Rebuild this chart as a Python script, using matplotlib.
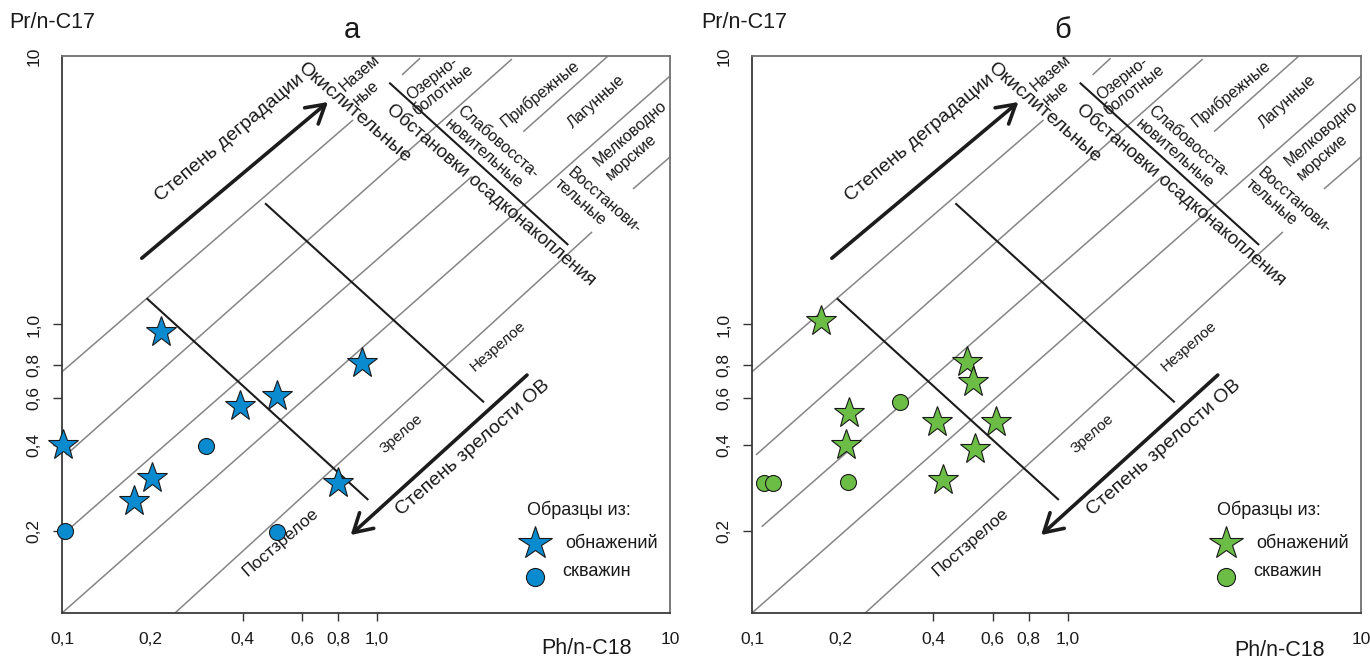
import matplotlib
matplotlib.use("Agg")
import numpy as np
import matplotlib.pyplot as plt

plt.rcParams['font.family'] = ['Liberation Sans', 'DejaVu Sans']

# ---------------- data ----------------
# panel a (blue)
outcrop_a_x = [0.217, 0.1005, 0.2025, 0.177, 0.392, 0.504, 0.919, 0.796]
outcrop_a_y = [0.961, 0.398, 0.305, 0.255, 0.562, 0.613, 0.808, 0.294]
well_a_x = [0.304, 0.1024, 0.506]
well_a_y = [0.396, 0.2005, 0.198]

# panel b (green)
outcrop_b_x = [0.1716, 0.505, 0.526, 0.2137, 0.2086, 0.412, 0.615, 0.532, 0.429]
outcrop_b_y = [1.033, 0.815, 0.693, 0.527, 0.398, 0.487, 0.487, 0.385, 0.301]
well_b_x = [0.1102, 0.1183, 0.2116, 0.3128]
well_b_y = [0.294, 0.294, 0.2955, 0.580]

# grey iso-lines of the diagram (x0, y0, x1, y1) in Ph/n-C18 , Pr/n-C17 units
grey_segments = [
    (0.1, 0.755, 0.871, 5.775),
    (1.217, 8.50, 1.402, 9.81),
    (0.1032, 0.368, 2.888, 9.745),
    (0.1079, 0.207, 2.104, 3.552),
    (3.157, 5.225, 6.143, 10.0),
    (0.1, 0.1, 10.0, 8.42),
    (0.2412, 0.1, 5.418, 2.211),
    (7.474, 3.196, 10.0, 4.206),
]
# black boundary lines
black_segments = [
    (0.1949, 1.252, 0.9511, 0.2565),
    (0.4657, 2.828, 2.318, 0.580),
    (1.101, 7.955, 4.496, 1.977),
]
# thick arrows (tail_x, tail_y, tip_x, tip_y)
arrows = [
    (0.1874, 1.765, 0.737, 6.74),
    (3.251, 0.734, 0.859, 0.1933),
]

x_ticks = [0.1, 0.2, 0.4, 0.6, 0.8, 1.0, 10]
x_tick_labels = ['0,1', '0,2', '0,4', '0,6', '0,8', '1,0', '10']
y_ticks = [0.2, 0.4, 0.6, 0.8, 1.0, 10]
y_tick_labels = ['0,2', '0,4', '0,6', '0,8', '1,0', '10']

# the hand-drawn log axes of the original: where each labelled value sits
scale_values = [0.1, 0.2, 0.4, 0.6, 0.8, 1.0, 10]
x_scale_pos = [0.0, 0.1447, 0.2972, 0.3952, 0.4544, 0.5181, 1.0]
y_scale_pos = [0.0, 0.1472, 0.3025, 0.3851, 0.4452, 0.5180, 1.0]

# annotations: text, x, y (axes fraction), rotation, fontsize
labels = [
    ('Степень деградации', 0.2763, 0.8528, 40, 14),
    ('Окислительные', 0.4803, 0.8977, -41, 14),
    ('Назем', 0.4901, 0.9689, 41, 11.5),
    ('ные', 0.4995, 0.9330, 41, 11.5),
    ('Озерно-', 0.6090, 0.9600, 38, 11.5),
    ('болотные', 0.6271, 0.9390, 38, 11.5),
    ('Прибрежные', 0.7862, 0.9330, 39, 11.5),
    ('Лагунные', 0.8794, 0.9180, 42, 11.5),
    ('Мелководно', 0.9342, 0.8612, 41, 11.5),
    ('морские', 0.9370, 0.8192, 41, 11.5),
    ('Слабовосста-', 0.7176, 0.8461, -41, 11.5),
    ('новительные', 0.6941, 0.8253, -41, 11.5),
    ('Восстанови-', 0.8914, 0.7402, -41, 11.5),
    ('тельные', 0.8531, 0.7373, -41, 11.5),
    ('Обстановки осадконакопления', 0.7053, 0.7519, -40.6, 13.5),
    ('Незрелое', 0.7176, 0.4781, 41, 11),
    ('Зрелое', 0.5587, 0.3214, 41, 11),
    ('Постзрелое', 0.3597, 0.1269, 41, 12.5),
    ('Степень зрелости ОВ', 0.6765, 0.2957, 41, 14),
]

LOGS = np.log10(scale_values)


def make_scale(pos):
    pos = np.asarray(pos, float)
    s_lo = (pos[1] - pos[0]) / (LOGS[1] - LOGS[0])
    s_hi = (pos[-1] - pos[-2]) / (LOGS[-1] - LOGS[-2])

    def fwd(v):
        v = np.asarray(v, float)
        lg = np.log10(np.maximum(v, 1e-300))
        out = np.interp(lg, LOGS, pos)
        out = np.where(lg < LOGS[0], pos[0] + (lg - LOGS[0]) * s_lo, out)
        out = np.where(lg > LOGS[-1], pos[-1] + (lg - LOGS[-1]) * s_hi, out)
        return out

    def inv(u):
        u = np.asarray(u, float)
        lg = np.interp(u, pos, LOGS)
        lg = np.where(u < pos[0], LOGS[0] + (u - pos[0]) / s_lo, lg)
        lg = np.where(u > pos[-1], LOGS[-1] + (u - pos[-1]) / s_hi, lg)
        return 10.0 ** lg

    return fwd, inv


W, H = 1370, 660
fig = plt.figure(figsize=(W / 100, H / 100), dpi=100)
ax_a = fig.add_axes([62 / W, 47 / H, 608 / W, 557 / H])
ax_b = fig.add_axes([752 / W, 47 / H, 609 / W, 557 / H])

INK = '#1a1a1a'


def draw_panel(ax, ox, oy, wx, wy, color):
    ax.set_xscale('function', functions=make_scale(x_scale_pos))
    ax.set_yscale('function', functions=make_scale(y_scale_pos))
    ax.set_xlim(0.1, 10)
    ax.set_ylim(0.1, 10)

    for (x0, y0, x1, y1) in grey_segments:
        ax.plot([x0, x1], [y0, y1], color='#858585', lw=1.1,
                solid_capstyle='butt', zorder=1)
    for (x0, y0, x1, y1) in black_segments:
        ax.plot([x0, x1], [y0, y1], color='#1c1c1c', lw=1.5,
                solid_capstyle='butt', zorder=2)
    for (x0, y0, x1, y1) in arrows:
        ax.annotate('', xy=(x1, y1), xytext=(x0, y0), xycoords='data',
                    textcoords='data',
                    arrowprops=dict(arrowstyle='->,head_length=0.65,head_width=0.38',
                                    lw=2.6, color='#1c1c1c', shrinkA=0, shrinkB=0,
                                    mutation_scale=20), zorder=3)

    for (txt, x, y, rot, fs) in labels:
        ax.text(x, y, txt, transform=ax.transAxes, rotation=rot,
                rotation_mode='anchor', ha='center', va='center',
                fontsize=fs, color=INK, zorder=4)

    ax.plot(ox, oy, linestyle='none', marker='*', ms=23, mfc=color,
            mec=INK, mew=0.8, zorder=6, clip_on=False)
    ax.plot(wx, wy, linestyle='none', marker='o', ms=11.5, mfc=color,
            mec=INK, mew=0.8, zorder=6, clip_on=False)

    # legend
    ax.text(0.7643, 0.185, 'Образцы из:', transform=ax.transAxes,
            ha='left', va='center', fontsize=13, color=INK)
    ax.plot([0.778], [0.125], transform=ax.transAxes, marker='*', ms=25,
            mfc=color, mec=INK, mew=0.8, linestyle='none')
    ax.text(0.8273, 0.125, 'обнажений', transform=ax.transAxes,
            ha='left', va='center', fontsize=13, color=INK)
    ax.plot([0.778], [0.0652], transform=ax.transAxes, marker='o', ms=13,
            mfc=color, mec=INK, mew=0.8, linestyle='none')
    ax.text(0.8235, 0.0741, 'скважин', transform=ax.transAxes,
            ha='left', va='center', fontsize=13, color=INK)

    # ticks
    ax.set_xticks(x_ticks)
    ax.set_xticklabels(x_tick_labels)
    ax.set_yticks(y_ticks)
    ax.set_yticklabels(y_tick_labels)
    ax.minorticks_off()
    ax.tick_params(axis='x', direction='out', length=6, width=1,
                   color='#333333', pad=8, labelsize=12.5, labelcolor=INK)
    ax.tick_params(axis='y', direction='out', length=6.5, width=1,
                   color='#333333', pad=8, labelsize=12.5, labelcolor=INK)
    for lbl in ax.get_yticklabels():
        lbl.set_rotation(90)
        lbl.set_va('center')
    xt = ax.xaxis.get_major_ticks()
    for i in (0, 1, 6):
        xt[i].tick1line.set_visible(False)
    yt = ax.yaxis.get_major_ticks()
    yt[5].tick1line.set_visible(False)

    for side in ('left', 'bottom'):
        ax.spines[side].set_color('#3a3a3a')
        ax.spines[side].set_linewidth(1.3)
    for side in ('top', 'right'):
        ax.spines[side].set_color('#707070')
        ax.spines[side].set_linewidth(1.3)


draw_panel(ax_a, outcrop_a_x, outcrop_a_y, well_a_x, well_a_y, '#0a8bd0')
draw_panel(ax_b, outcrop_b_x, outcrop_b_y, well_b_x, well_b_y, '#6cbd45')

# axis names and panel letters
for x0 in (9, 701):
    fig.text(x0 / W, 1 - 22 / H, 'Pr/n-C17', ha='left', va='center',
             fontsize=15.5, color=INK)
fig.text(586.7 / W, 1 - 648 / H, 'Ph/n-C18', ha='center', va='center',
         fontsize=15.5, color=INK)
fig.text(1279 / W, 1 - 650 / H, 'Ph/n-C18', ha='center', va='center',
         fontsize=15.5, color=INK)
fig.text(352 / W, 1 - 30 / H, 'а', ha='center', va='center', fontsize=21,
         color=INK)
fig.text(1063 / W, 1 - 30 / H, 'б', ha='center', va='center', fontsize=21,
         color=INK)

fig.savefig('out.png', dpi=100)
